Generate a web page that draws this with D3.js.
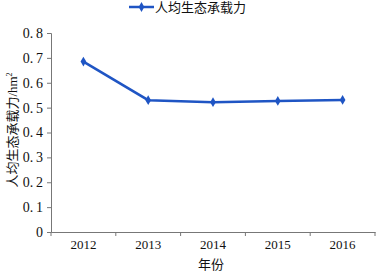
<!DOCTYPE html>
<html>
<head>
<meta charset="utf-8">
<script src="https://cdn.jsdelivr.net/npm/d3@7"></script>
<style>
  body { margin: 0; background: #fff; }
  text { font-family: "Liberation Serif", "Noto Sans CJK SC", serif; fill: #111; }
</style>
</head>
<body>
<div id="output"></div>
<script>
var w = 380;   // svg width
var h = 272;   // svg height

// data
var years = ['2012', '2013', '2014', '2015', '2016'];
var values = [0.685, 0.530, 0.522, 0.527, 0.531];
var yTicks = [0, 0.1, 0.2, 0.3, 0.4, 0.5, 0.6, 0.7, 0.8];
var seriesName = '人均生态承载力';

var margin = { left: 51, right: 5, top: 33, bottom: 40 };
var lineColor = '#1f55c4';

var svg = d3.select('#output').append('svg')
  .attr('width', w)
  .attr('height', h);

var x = d3.scaleBand()
  .domain(years)
  .range([margin.left, w - margin.right]);

var y = d3.scaleLinear()
  .domain([0, 0.8])
  .range([h - margin.bottom, margin.top]);

// y axis
var yAxis = svg.append('g')
  .attr('transform', 'translate(' + margin.left + ',0)')
  .call(d3.axisLeft(y).tickValues(yTicks).tickSize(4).tickPadding(4)
    .tickFormat(function(d) { return d === 0 ? '0' : d.toFixed(1).replace('.', '.\u2009'); }));
yAxis.selectAll('text').style('font-size', '14px');

// x axis
var xAxis = svg.append('g')
  .attr('transform', 'translate(0,' + (h - margin.bottom) + ')')
  .call(d3.axisBottom(x).tickSize(0).tickPadding(8));
xAxis.selectAll('text').style('font-size', '13px');
// ticks at the band edges
xAxis.selectAll('.edge')
  .data(years.concat(['end']))
  .enter().append('line')
  .attr('x1', function(d, i) { return i < years.length ? x(d) : x.range()[1]; })
  .attr('x2', function(d, i) { return i < years.length ? x(d) : x.range()[1]; })
  .attr('y1', 0).attr('y2', 4)
  .attr('stroke', '#777');

svg.selectAll('.domain').attr('stroke', '#777');
svg.selectAll('.tick line').attr('stroke', '#777');

// series line
var line = d3.line()
  .x(function(d, i) { return x(years[i]) + x.bandwidth() / 2; })
  .y(function(d) { return y(d); });

svg.append('path')
  .datum(values)
  .attr('d', line)
  .attr('fill', 'none')
  .attr('stroke', lineColor)
  .attr('stroke-width', 2.5);

var diamond = d3.symbol().type(d3.symbolDiamond).size(28);
svg.selectAll('.pt')
  .data(values)
  .enter().append('path')
  .attr('d', diamond)
  .attr('transform', function(d, i) {
    return 'translate(' + (x(years[i]) + x.bandwidth() / 2) + ',' + y(d) + ')';
  })
  .attr('fill', lineColor);

// legend
svg.append('line')
  .attr('x1', 129).attr('x2', 154).attr('y1', 7).attr('y2', 7)
  .attr('stroke', lineColor).attr('stroke-width', 2.5);
svg.append('path')
  .attr('d', diamond)
  .attr('transform', 'translate(141.5,7)')
  .attr('fill', lineColor);
svg.append('text')
  .attr('x', 155).attr('y', 12)
  .style('font-size', '13px')
  .text(seriesName);

// axis titles
svg.append('text')
  .attr('transform', 'translate(17,130) rotate(-90)')
  .attr('text-anchor', 'middle')
  .style('font-size', '13px')
  .html('人均生态承载力/hm<tspan dy="-5" style="font-size:8px">2</tspan>');

svg.append('text')
  .attr('x', 211).attr('y', 269)
  .attr('text-anchor', 'middle')
  .style('font-size', '13px')
  .text('年份');
</script>
</body>
</html>
